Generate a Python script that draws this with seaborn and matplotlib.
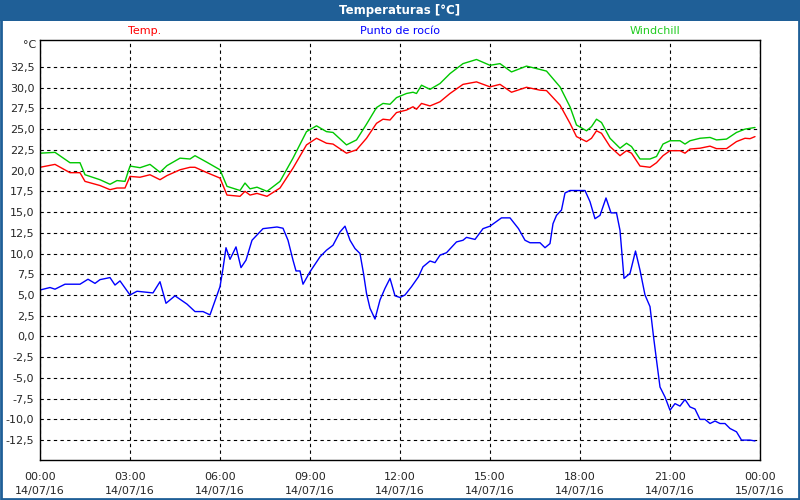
import numpy as np
import pandas as pd
import seaborn as sns
import matplotlib
matplotlib.use('Agg')
import matplotlib.pyplot as plt
from matplotlib.patches import Rectangle

# horas de lectura (temp. y windchill)
temp_times = ['00:00', '00:30', '01:00', '01:20', '01:30', '02:00', '02:20', '02:34', '02:50',
              '03:00', '03:20', '03:40', '04:00', '04:14', '04:40', '05:00', '05:10', '05:34',
              '06:00', '06:14', '06:40', '06:50', '07:00', '07:14', '07:34', '08:00', '08:26',
              '08:53', '09:13', '09:33', '09:46', '10:13', '10:33', '10:53', '11:13', '11:26',
              '11:40', '11:53', '12:13', '12:26', '12:33', '12:43', '13:00', '13:20', '13:40',
              '14:06', '14:33', '15:00', '15:20', '15:43', '16:13', '16:40', '16:53', '17:20',
              '17:40', '17:53', '18:13', '18:23', '18:33', '18:43', '19:00', '19:20', '19:33',
              '19:43', '20:00', '20:20', '20:33', '20:46', '21:00', '21:20', '21:30', '21:40',
              '22:00', '22:20', '22:33', '22:53', '23:13', '23:30', '23:40', '23:50']
temp = [20.4, 20.75, 19.75, 19.75, 18.7, 18.2, 17.7, 17.9, 17.9,
        19.3, 19.2, 19.5, 18.9, 19.4, 20.1, 20.4, 20.4, 19.75,
        19.1, 17.05, 16.9, 17.5, 17.05, 17.25, 16.9, 17.9, 20.3,
        23.1, 23.9, 23.3, 23.2, 22.1, 22.5, 23.9, 25.7, 26.2,
        26.1, 27.0, 27.3, 27.7, 27.4, 28.1, 27.8, 28.3, 29.3,
        30.4, 30.7, 30.1, 30.4, 29.45, 30.05, 29.7, 29.65, 27.9,
        25.7, 24.1, 23.5, 23.9, 24.8, 24.5, 22.9, 21.8, 22.4,
        22.1, 20.55, 20.4, 20.95, 21.8, 22.4, 22.4, 22.1, 22.6,
        22.7, 22.95, 22.65, 22.65, 23.5, 23.9, 23.85, 24.1]
windchill = [22.1, 22.2, 20.95, 20.95, 19.5, 18.9, 18.35, 18.8, 18.7,
             20.55, 20.35, 20.75, 19.8, 20.6, 21.5, 21.4, 21.8, 21.0,
             20.1, 18.1, 17.6, 18.5, 17.8, 18.0, 17.5, 18.7, 21.5,
             24.7, 25.4, 24.7, 24.6, 23.1, 23.7, 25.6, 27.6, 28.1,
             28.0, 28.8, 29.3, 29.45, 29.3, 30.3, 29.8, 30.5, 31.7,
             32.9, 33.4, 32.7, 32.9, 31.9, 32.6, 32.2, 32.0, 30.1,
             27.7, 25.5, 24.8, 25.3, 26.2, 25.8, 23.9, 22.7, 23.3,
             22.9, 21.4, 21.4, 21.7, 23.2, 23.6, 23.6, 23.2, 23.6,
             23.9, 24.0, 23.7, 23.8, 24.6, 25.0, 25.1, 25.2]

# punto de rocio
dew_times = ['00:00', '00:20', '00:30', '00:50', '01:20', '01:36', '01:50', '02:00', '02:20',
             '02:30', '02:40', '03:00', '03:14', '03:46', '04:00', '04:12', '04:30', '04:54',
             '05:10', '05:26', '05:40', '06:00', '06:06', '06:12', '06:20', '06:32', '06:42',
             '06:52', '07:04', '07:26', '07:54', '08:06', '08:16', '08:26', '08:32', '08:40',
             '08:46', '09:00', '09:20', '09:33', '09:46', '10:00', '10:10', '10:20', '10:30',
             '10:40', '10:47', '10:53', '11:00', '11:10', '11:20', '11:30', '11:40', '11:50',
             '12:00', '12:10', '12:23', '12:37', '12:46', '13:00', '13:10', '13:20', '13:33',
             '13:53', '14:06', '14:13', '14:30', '14:46', '15:00', '15:23', '15:40', '15:57',
             '16:10', '16:20', '16:40', '16:50', '17:00', '17:06', '17:13', '17:23', '17:30',
             '17:40', '18:10', '18:20', '18:30', '18:40', '18:52', '19:02', '19:13', '19:20',
             '19:28', '19:40', '19:51', '20:00', '20:10', '20:20', '20:27', '20:33', '20:40',
             '20:50', '21:00', '21:10', '21:20', '21:30', '21:40', '21:50', '22:00', '22:10',
             '22:20', '22:30', '22:40', '22:50', '23:00', '23:13', '23:23', '23:40', '23:50']
dew = [5.6, 5.9, 5.7, 6.3, 6.3, 6.9, 6.4, 6.85, 7.1,
       6.2, 6.7, 5.0, 5.45, 5.25, 6.6, 4.0, 4.9, 3.9,
       3.0, 3.0, 2.6, 6.0, 8.2, 10.7, 9.3, 10.8, 8.3,
       9.2, 11.6, 13.0, 13.2, 13.05, 11.6, 9.2, 7.9, 7.9,
       6.3, 7.8, 9.6, 10.4, 11.0, 12.6, 13.3, 11.6, 10.6,
       10.0, 7.6, 5.2, 3.4, 2.1, 4.4, 5.8, 7.0, 4.9,
       4.7, 5.0, 6.0, 7.2, 8.4, 9.1, 8.9, 9.8, 10.1,
       11.4, 11.6, 11.95, 11.7, 13.0, 13.3, 14.3, 14.3, 13.0,
       11.6, 11.3, 11.3, 10.7, 11.2, 13.6, 14.6, 15.25, 17.3,
       17.6, 17.6, 16.25, 14.2, 14.6, 16.7, 14.9, 14.9, 12.8,
       7.0, 7.6, 10.3, 8.0, 5.0, 3.6, 0.0, -2.85, -6.1,
       -7.3, -8.9, -8.1, -8.4, -7.6, -8.5, -8.75, -10.0, -10.0,
       -10.5, -10.2, -10.5, -10.5, -11.1, -11.5, -12.5, -12.5, -12.6]

tick_hours = [0, 3, 6, 9, 12, 15, 18, 21, 24]
tick_labels = ['00:00\n14/07/16', '03:00\n14/07/16', '06:00\n14/07/16', '09:00\n14/07/16',
               '12:00\n14/07/16', '15:00\n14/07/16', '18:00\n14/07/16', '21:00\n14/07/16',
               '00:00\n15/07/16']


def to_hours(times):
    return [int(t[:2]) + int(t[3:]) / 60 for t in times]


df_t = pd.DataFrame({'hora': to_hours(temp_times), 'temp': temp, 'wc': windchill})
df_d = pd.DataFrame({'hora': to_hours(dew_times), 'dew': dew})

sns.set_style('white')
plt.rcParams['font.family'] = ['DejaVu Sans']

fig = plt.figure(figsize=(8, 5), dpi=100)
fig.patch.set_facecolor('white')
ax = fig.add_axes([0.05, 0.08, 0.90, 0.84])

sns.lineplot(data=df_t, x='hora', y='wc', color='#00c800', lw=1.0, ax=ax)
sns.lineplot(data=df_t, x='hora', y='temp', color='#ff0000', lw=1.0, ax=ax)
sns.lineplot(data=df_d, x='hora', y='dew', color='#0000ff', lw=1.0, ax=ax)

ax.set_xlim(0, 24)
ax.set_ylim(-14.9, 35.75)
ax.set_xlabel('')
ax.set_ylabel('')

yt = np.arange(-12.5, 33, 2.5)
ax.set_yticks(yt)
ax.set_yticklabels([f'{v:.1f}'.replace('.', ',') for v in yt], fontsize=8)
ax.set_xticks(tick_hours)
ax.set_xticklabels(tick_labels, fontsize=8, linespacing=1.45)
ax.set_xticks(range(0, 25), minor=True)
ax.tick_params(axis='x', which='both', direction='out', length=4, width=0.8, color='black', pad=5)
ax.tick_params(axis='y', length=0, pad=4)
ax.grid(True, which='major', color='black', linestyle=(0, (3, 3)), linewidth=0.8)

for s in ax.spines.values():
    s.set_color('black')
    s.set_linewidth(1.0)

ax.text(-0.005, 1.0, '°C', transform=ax.transAxes, ha='right', va='top', fontsize=8)

# leyenda arriba
fig.text(0.181, 0.938, 'Temp.', color='#ff0000', ha='center', va='center', fontsize=8)
fig.text(0.5, 0.938, 'Punto de rocío', color='#0000ff', ha='center', va='center', fontsize=8)
fig.text(0.819, 0.938, 'Windchill', color='#22cc22', ha='center', va='center', fontsize=8)

# barra de titulo y marco
fig.patches.append(Rectangle((0, 0.958), 1, 0.042, transform=fig.transFigure,
                             facecolor='#1f5f97', edgecolor='none', zorder=0))
fig.patches.append(Rectangle((0.001, 0.002), 0.998, 0.996, transform=fig.transFigure,
                             facecolor='none', edgecolor='#1f5f97', linewidth=2, zorder=5))
fig.text(0.5, 0.979, 'Temperaturas [°C]', color='white', fontweight='bold',
         ha='center', va='center', fontsize=8.5)

fig.savefig('out.png', dpi=100)
